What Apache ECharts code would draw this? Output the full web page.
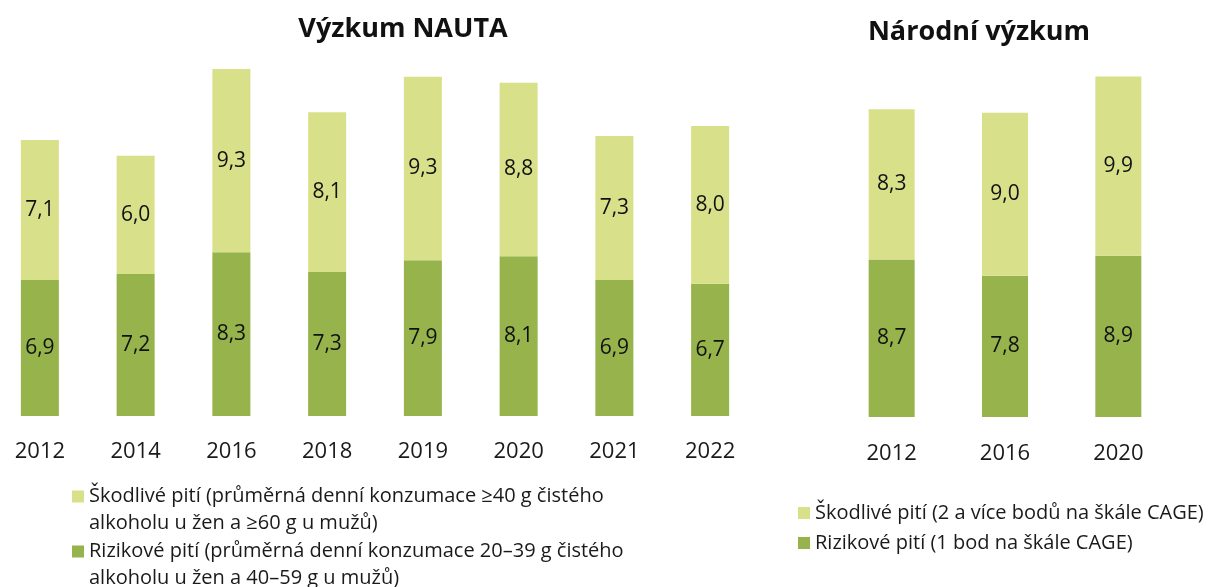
<!DOCTYPE html>
<html>
<head>
<meta charset="utf-8">
<script src="https://cdn.jsdelivr.net/npm/echarts@6/dist/echarts.min.js"></script>
<style>
html,body{margin:0;padding:0;background:#fff;overflow:hidden;}
#chart{position:absolute;left:-8px;top:0;width:1218px;height:587px;}
</style>
</head>
<body>
<div id="chart"></div>
<script>
const nautaYears = ['2012','2014','2016','2018','2019','2020','2021','2022'];
const nautaRizikove = [6.9, 7.2, 8.3, 7.3, 7.9, 8.1, 6.9, 6.7];
const nautaSkodlive = [7.1, 6.0, 9.3, 8.1, 9.3, 8.8, 7.3, 8.0];

const narodniYears = ['2012','2016','2020'];
const narodniRizikove = [8.7, 7.8, 8.9];
const narodniSkodlive = [8.3, 9.0, 9.9];

const titleNauta = 'Výzkum NAUTA';
const titleNarodni = 'Národní výzkum';
const nameNautaSkod = 'Škodlivé pití (průměrná denní konzumace ≥40 g čistého\nalkoholu u žen a ≥60 g u mužů)';
const nameNautaRiz = 'Rizikové pití (průměrná denní konzumace 20–39 g čistého\nalkoholu u žen a 40–59 g u mužů)';
const nameNarSkod = 'Škodlivé pití (2 a více bodů na škále CAGE)';
const nameNarRiz = 'Rizikové pití (1 bod na škále CAGE)';

const LIGHT = '#d8e08a';
const DARK = '#96b34c';
const FONT = '"Open Sans", "Noto Sans", sans-serif';
const X0 = 8; // canvas is shifted 8px left so the first band can start off-screen

const chart = echarts.init(document.getElementById('chart'), null, {renderer: 'canvas'});

const fmt = p => p.value.toFixed(1).replace('.', ',');
const lbl = {show: true, position: 'inside', formatter: fmt, color: '#111', fontSize: 21, fontFamily: FONT};

function legendItem(name, left, top, twoLine) {
  return {
    show: true, left: left + X0, top: top, padding: 0, orient: 'vertical',
    data: [name], icon: 'rect', itemWidth: 12, itemHeight: 12, itemGap: 0,
    selectedMode: false,
    // a blank first line keeps the icon level with the first real line of a two-line name
    formatter: twoLine ? (n => ' \n' + n) : (n => n),
    textStyle: twoLine ? {fontSize: 20, fontFamily: FONT, color: '#1a1a1a', lineHeight: 27}
                       : {fontSize: 20, fontFamily: FONT, color: '#1a1a1a', lineHeight: 20}
  };
}

const option = {
  animation: false,
  backgroundColor: '#fff',
  textStyle: {fontFamily: FONT},
  title: [
    {text: titleNauta, left: 398 + X0, top: 11, textAlign: 'center',
     textStyle: {fontSize: 27, fontWeight: 'bold', color: '#111', fontFamily: FONT}},
    {text: titleNarodni, left: 974 + X0, top: 14, textAlign: 'center',
     textStyle: {fontSize: 27, fontWeight: 'bold', color: '#111', fontFamily: FONT}}
  ],
  legend: [
    legendItem(nameNautaSkod, 72, 456, true),
    legendItem(nameNautaRiz, 72, 511, true),
    legendItem(nameNarSkod, 798, 503, false),
    legendItem(nameNarRiz, 798, 533, false)
  ],
  grid: [
    {left: 0, width: 766, top: 61, height: 355},
    {left: 835 + X0, width: 340, top: 73, height: 344}
  ],
  xAxis: [
    {type: 'category', gridIndex: 0, data: nautaYears,
     axisLine: {show: false}, axisTick: {show: false},
     axisLabel: {fontSize: 22, color: '#1a1a1a', margin: 25, fontFamily: FONT}},
    {type: 'category', gridIndex: 1, data: narodniYears,
     axisLine: {show: false}, axisTick: {show: false},
     axisLabel: {fontSize: 22, color: '#1a1a1a', margin: 26, fontFamily: FONT}}
  ],
  yAxis: [
    {type: 'value', gridIndex: 0, min: 0, max: 18, show: false},
    {type: 'value', gridIndex: 1, min: 0, max: 19, show: false}
  ],
  series: [
    {name: nameNautaRiz, type: 'bar', stack: 'n', xAxisIndex: 0, yAxisIndex: 0,
     data: nautaRizikove, barWidth: 38, itemStyle: {color: DARK}, label: lbl},
    {name: nameNautaSkod, type: 'bar', stack: 'n', xAxisIndex: 0, yAxisIndex: 0,
     data: nautaSkodlive, barWidth: 38, itemStyle: {color: LIGHT}, label: lbl},
    {name: nameNarRiz, type: 'bar', stack: 'r', xAxisIndex: 1, yAxisIndex: 1,
     data: narodniRizikove, barWidth: 46, itemStyle: {color: DARK}, label: lbl},
    {name: nameNarSkod, type: 'bar', stack: 'r', xAxisIndex: 1, yAxisIndex: 1,
     data: narodniSkodlive, barWidth: 46, itemStyle: {color: LIGHT}, label: lbl}
  ]
};
chart.setOption(option);
</script>
</body>
</html>
